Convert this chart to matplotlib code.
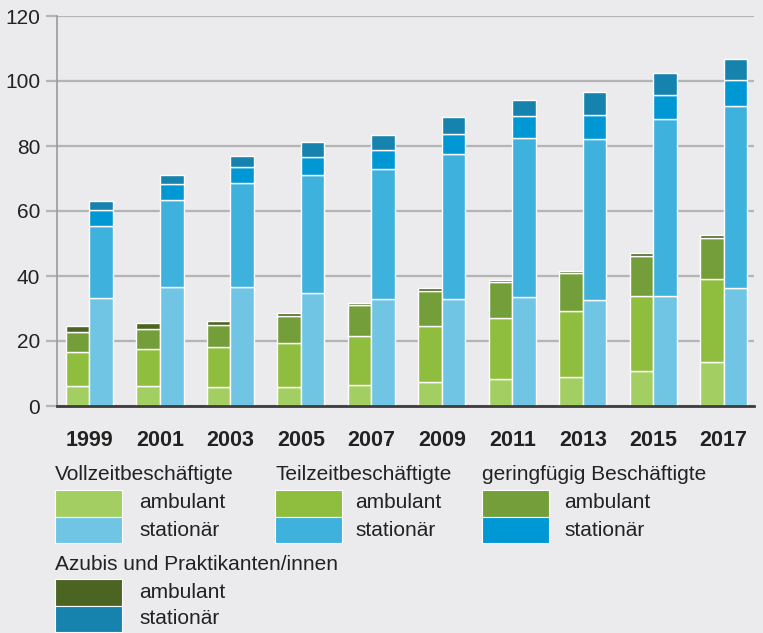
import numpy as np
import matplotlib
matplotlib.use('Agg')
import matplotlib.pyplot as plt
import matplotlib.patches as mpatches

plt.rcParams['font.family'] = ['Liberation Sans', 'DejaVu Sans']

years = ['1999', '2001', '2003', '2005', '2007', '2009', '2011', '2013', '2015', '2017']

# ambulant (in Tausend)
amb_vollzeit = [6.2, 6.2, 5.7, 5.7, 6.6, 7.4, 8.2, 9.0, 10.9, 13.4]
amb_teilzeit = [10.4, 11.4, 12.4, 13.8, 15.0, 17.1, 18.8, 20.3, 23.0, 25.8]
amb_geringf = [6.2, 6.2, 6.8, 8.2, 9.5, 11.0, 11.1, 11.6, 12.3, 12.5]
amb_azubis = [1.9, 1.6, 1.3, 0.8, 0.7, 0.9, 0.6, 0.7, 1.0, 0.8]

# stationaer
sta_vollzeit = [33.2, 36.7, 36.7, 34.7, 32.9, 32.9, 33.6, 32.5, 33.9, 36.2]
sta_teilzeit = [22.2, 26.7, 31.9, 36.4, 40.0, 44.6, 48.9, 49.7, 54.5, 56.2]
sta_geringf = [4.9, 5.0, 4.9, 5.6, 5.9, 6.2, 6.8, 7.4, 7.3, 7.9]
sta_azubis = [2.9, 2.8, 3.5, 4.6, 4.7, 5.3, 4.9, 6.9, 6.9, 6.5]

groups = ['Vollzeitbeschäftigte', 'Teilzeitbeschäftigte',
          'geringfügig Beschäftigte', 'Azubis und Praktikanten/innen']
amb_colors = ['#a3cf62', '#8fbd3e', '#739e3a', '#4b6421']
sta_colors = ['#70c5e5', '#3eb1dc', '#0098d4', '#1583ae']

BG = '#ebebed'
W, H = 763, 633

fig = plt.figure(figsize=(W / 100, H / 100), dpi=100)
fig.patch.set_facecolor(BG)
ax = fig.add_axes([57 / W, 1 - 406 / H, (754 - 57) / W, 390 / H])
ax.set_facecolor(BG)

x = np.arange(len(years))
bw = 0.335
amb = [amb_vollzeit, amb_teilzeit, amb_geringf, amb_azubis]
sta = [sta_vollzeit, sta_teilzeit, sta_geringf, sta_azubis]

bottom = np.zeros(len(years))
for vals, c in zip(amb, amb_colors):
    ax.bar(x - bw / 2, vals, bw, bottom=bottom, color=c,
           edgecolor='white', linewidth=1.0, zorder=3)
    bottom += np.array(vals)
bottom = np.zeros(len(years))
for vals, c in zip(sta, sta_colors):
    ax.bar(x + bw / 2, vals, bw, bottom=bottom, color=c,
           edgecolor='white', linewidth=1.0, zorder=3)
    bottom += np.array(vals)

ax.set_ylim(0, 120)
ax.set_xlim(-0.46, 9.43)
ax.set_yticks(range(0, 121, 20))
ax.yaxis.grid(True, color='#b4b4b4', linewidth=1.6, zorder=0)
ax.set_axisbelow(True)
ax.set_xticks(x)
ax.set_xticklabels(years, fontsize=15.5, fontweight='bold', color='#222222')
ax.tick_params(axis='x', length=0, pad=17)
ax.tick_params(axis='y', length=8, color='#b4b4b4', width=1.6,
               labelsize=15, labelcolor='#222222', pad=4)
for s in ['top', 'right']:
    ax.spines[s].set_visible(False)
ax.spines['left'].set_color('#9a9a9a')
ax.spines['left'].set_linewidth(1.2)
ax.spines['bottom'].set_color('#3c3c3c')
ax.spines['bottom'].set_linewidth(2)
ax.spines['bottom'].set_zorder(4)


# --- Legend, built by hand in pixel positions ---
def fx(px):
    return px / W


def fy(py):
    return 1 - py / H


def swatch(x0, y0, color):
    r = mpatches.Rectangle((fx(x0), fy(y0 + 26.5)), 67 / W, 26.5 / H,
                           transform=fig.transFigure, facecolor=color,
                           edgecolor='white', linewidth=0.8)
    fig.add_artist(r)


txt = dict(fontsize=15, color='#222222', va='center')
cols = [(55, 139, 474, 490), (275, 355, 474, 490), (482, 564, 474, 490),
        (55, 139, 565, 579)]
for i, (sx, tx, hy, sy) in enumerate(cols):
    fig.text(fx(sx), fy(hy), groups[i], **txt)
    swatch(sx, sy, amb_colors[i])
    swatch(sx, sy + 26.5, sta_colors[i])
    fig.text(fx(tx), fy(sy + 13), 'ambulant', **txt)
    fig.text(fx(tx), fy(sy + 40), 'stationär', **txt)

fig.savefig('out.png', dpi=100, facecolor=fig.get_facecolor())
